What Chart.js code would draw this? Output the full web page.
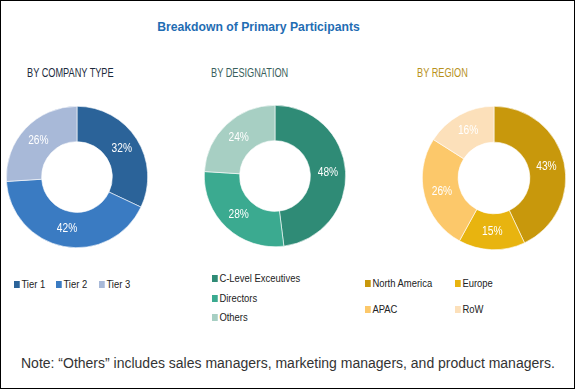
<!DOCTYPE html>
<html><head><meta charset="utf-8">
<script src="https://cdn.jsdelivr.net/npm/chart.js@4/dist/chart.umd.min.js"></script>
<style>
html,body{margin:0;padding:0;background:#fff;}
#wrap{position:relative;width:573px;height:387px;border:1px solid #000;overflow:hidden;font-family:"Liberation Sans",Arial,sans-serif;}
.abs{position:absolute;white-space:nowrap;}
#title{left:0;width:515px;top:19px;text-align:center;font-weight:bold;font-size:12.2px;color:#1f6db3;}
.sub{top:65px;font-size:12.5px;transform:scaleX(0.735);transform-origin:0 0;}
.leg{font-size:11.5px;color:#222;line-height:13px;transform:scaleX(0.82);transform-origin:0 0;}
.leg i{display:inline-block;width:7px;height:7px;margin-right:2px;vertical-align:0px;}
#note{left:20px;top:354px;font-size:14px;color:#333;}
canvas{position:absolute;}
</style></head>
<body>
<div id="wrap">
  <div id="title" class="abs">Breakdown of Primary Participants</div>
  <div class="abs sub" style="left:26px;color:#1b2a3c;">BY COMPANY TYPE</div>
  <div class="abs sub" style="left:210px;color:#3a5f5c;">BY DESIGNATION</div>
  <div class="abs sub" style="left:416px;color:#b8921c;">BY REGION</div>
  <canvas id="c1" width="142" height="142" style="left:5px;top:105px;width:142px;height:142px;"></canvas>
  <canvas id="c2" width="142" height="142" style="left:203px;top:104px;width:142px;height:142px;"></canvas>
  <canvas id="c3" width="144" height="144" style="left:421px;top:105px;width:144px;height:144px;"></canvas>
  <div id="legends"></div>
  <div id="note" class="abs">Note: “Others” includes sales managers, marketing managers, and product managers.</div>
</div>
<script>
// ---- data ----
const companyLabels = ["Tier 1", "Tier 2", "Tier 3"];
const companyValues = [32, 42, 26];
const companyColors = ["#2b6399", "#3a7bc2", "#a8b9d8"];

const designationLabels = ["C-Level Exceutives", "Directors", "Others"];
const designationValues = [48, 28, 24];
const designationColors = ["#2f8b76", "#3baa90", "#a7cfc3"];

const regionLabels = ["North America", "Europe", "APAC", "RoW"];
const regionValues = [43, 15, 26, 16];
const regionColors = ["#c8980c", "#e8b40f", "#fcc86a", "#fce0ba"];

// ---- label plugin ----
const pctLabels = {
  id: "pctLabels",
  afterDatasetsDraw(chart) {
    const ctx = chart.ctx;
    const meta = chart.getDatasetMeta(0);
    const vals = chart.data.datasets[0].data;
    meta.data.forEach((arc, i) => {
      const p = arc.tooltipPosition();
      ctx.save();
      ctx.translate(p.x, p.y);
      ctx.scale(0.85, 1);
      ctx.fillStyle = "#ffffff";
      ctx.font = '12px "Liberation Sans",Arial,sans-serif';
      ctx.textAlign = "center";
      ctx.textBaseline = "middle";
      ctx.fillText(vals[i] + "%", 0, 0);
      ctx.restore();
    });
  }
};

function donut(id, labels, values, colors) {
  new Chart(document.getElementById(id), {
    type: "doughnut",
    data: { labels: labels, datasets: [{ data: values, backgroundColor: colors, borderColor: "#ffffff", borderWidth: 0.6, hoverOffset: 0 }] },
    options: {
      responsive: false, animation: false, cutout: "50%",
      layout: { padding: 0 },
      plugins: { legend: { display: false }, tooltip: { enabled: false } }
    },
    plugins: [pctLabels]
  });
}
donut("c1", companyLabels, companyValues, companyColors);
donut("c2", designationLabels, designationValues, designationColors);
donut("c3", regionLabels, regionValues, regionColors);

// ---- legends (HTML) ----
const legWrap = document.getElementById("legends");
function addLeg(label, color, x, y) {
  const d = document.createElement("div");
  d.className = "abs leg";
  d.style.left = x + "px"; d.style.top = y + "px";
  d.innerHTML = '<i style="background:' + color + '"></i>' + label;
  legWrap.appendChild(d);
}
const companyPos = [[13, 277], [55, 277], [98, 277]];
companyLabels.forEach((l, i) => addLeg(l, companyColors[i], companyPos[i][0], companyPos[i][1]));
const desPos = [[211, 271], [211, 291], [211, 310]];
designationLabels.forEach((l, i) => addLeg(l, designationColors[i], desPos[i][0], desPos[i][1]));
const regPos = [[364, 276], [454, 276], [364, 302], [454, 302]];
regionLabels.forEach((l, i) => addLeg(l, regionColors[i], regPos[i][0], regPos[i][1]));
</script>
</body></html>
